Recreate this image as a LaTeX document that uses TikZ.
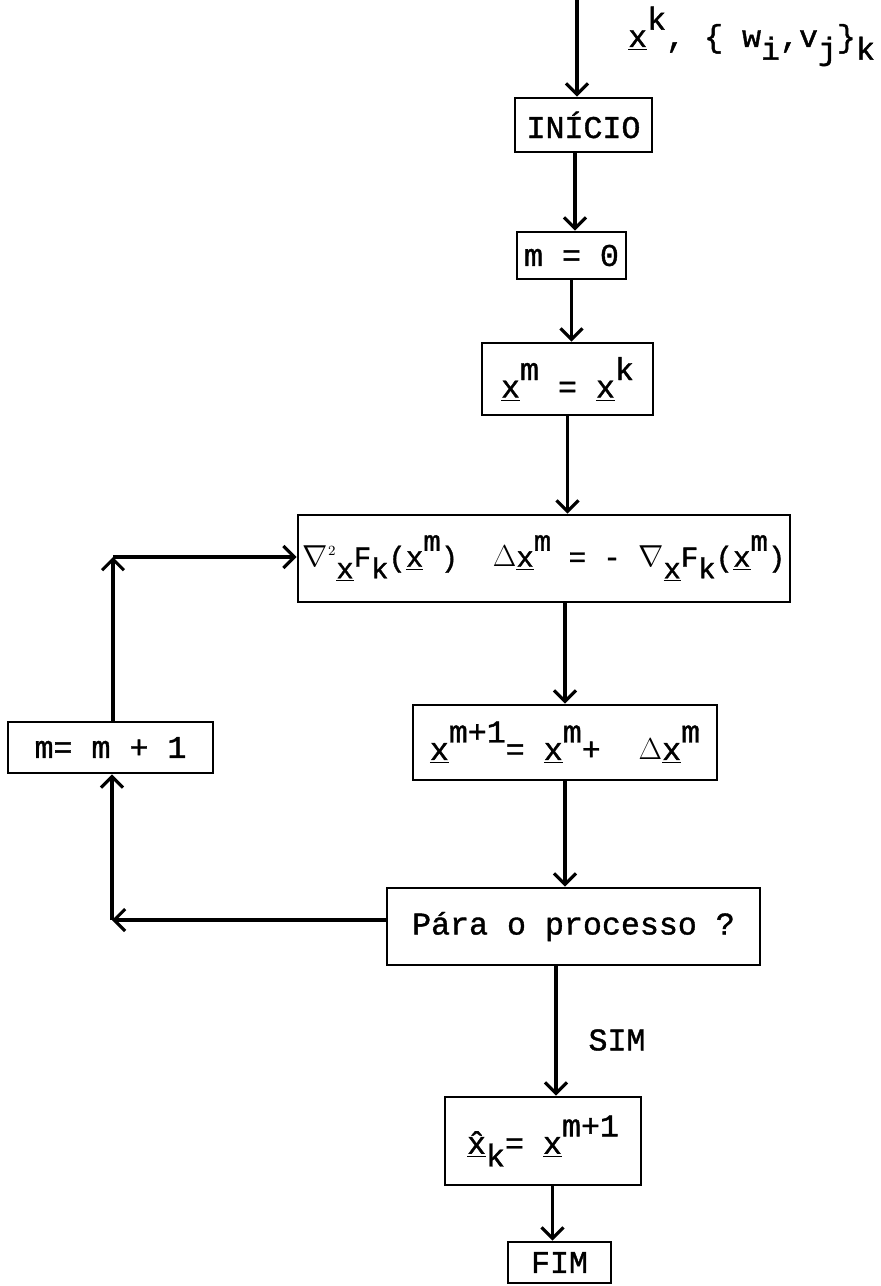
\documentclass[tikz,border=0pt]{standalone}
\usepackage{fontspec}
\setmainfont{Liberation Mono}[FakeBold=1.2]
\usetikzlibrary{arrows.meta,positioning,calc}
\newcommand{\ux}{\underline{x}}
\newcommand{\up}[1]{\raisebox{0.55em}{#1}}
\newcommand{\dn}[1]{\raisebox{-0.4em}{#1}}

\begin{document}
\begin{tikzpicture}[
  bx/.style={draw,line width=1.5pt,font=\fontsize{18}{21}\selectfont,inner sep=2pt},
  arr/.style={-{Straight Barb[length=2.2mm,width=4.4mm]},line width=1.8pt},
  lab/.style={font=\fontsize{18}{21}\selectfont}]
\useasboundingbox (0,0) rectangle (17.6,-25.72);
\node[bx,minimum width=2.74cm,minimum height=1.08cm] (ini) at (11.67,-2.5) {INÍCIO};
\node[bx,minimum width=2.18cm,minimum height=0.94cm] (mz) at (11.43,-5.11) {m = 0};
\node[bx,minimum width=3.42cm,minimum height=1.44cm] (xm) at (11.35,-7.58) {\ux\up{m} = \ux\up{k}};
\node[bx,minimum width=9.84cm,minimum height=1.74cm,font=\fontsize{16.5}{20}\selectfont] (nw) at (10.88,-11.17) {$\nabla^{\scriptscriptstyle 2}$\dn{\ux}F\dn{k}(\ux\up{m})\ \ $\Delta$\ux\up{m} = - $\nabla$\dn{\ux}F\dn{k}(\ux\up{m})};
\node[bx,minimum width=4.1cm,minimum height=1.02cm] (inc) at (2.21,-14.95) {m= m + 1};
\node[bx,minimum width=6.08cm,minimum height=1.5cm] (xn) at (11.3,-14.85) {\ux\up{m+1}= \ux\up{m}+ \ $\Delta$\ux\up{m}};
\node[bx,minimum width=7.46cm,minimum height=1.54cm] (stop) at (11.47,-18.53) {Pára o processo ?};
\node[bx,minimum width=3.92cm,minimum height=1.76cm] (res) at (10.86,-22.82) {\underline{\^{x}}\dn{k}= \ux\up{m+1}};
\node[bx,minimum width=2.06cm,minimum height=0.82cm] (fim) at (11.19,-25.25) {FIM};
\node[lab,anchor=base west] (inp) at (12.44,-0.94) {\ux\up{k}, \{ w\dn{i},v\dn{j}\}\dn{k}};
\node[lab] (sim) at (12.34,-20.8) {SIM};
\coordinate (in) at (11.54,0);
\coordinate (cup) at (2.26,-11.14);
\coordinate (clo) at (2.24,-18.4);
\draw[arr] (in) -- (in |- ini.north);
\draw[arr] ([xshift=-1.7mm]ini.south) -- ([xshift=-1.7mm]ini.south |- mz.north);
\draw[arr] (mz.south) -- (mz.south |- xm.north);
\draw[arr] (xm.south) -- (xm.south |- nw.north);
\draw[arr] (xn.north |- nw.south) -- (xn.north);
\draw[arr] (xn.south) -- (xn.south |- stop.north);
\draw[arr] ([xshift=2.6mm]res.north |- stop.south) -- ([xshift=2.6mm]res.north);
\draw[arr] ([xshift=-1.4mm]fim.north |- res.south) -- ([xshift=-1.4mm]fim.north);
% laco de volta
\draw[arr] (stop.west |- clo) -- (clo);
\draw[arr] (clo) -- (clo |- inc.south);
\draw[arr] (inc.north -| cup) -- (cup);
\draw[arr] (cup) -- (cup -| nw.west);
\end{tikzpicture}
\end{document}
